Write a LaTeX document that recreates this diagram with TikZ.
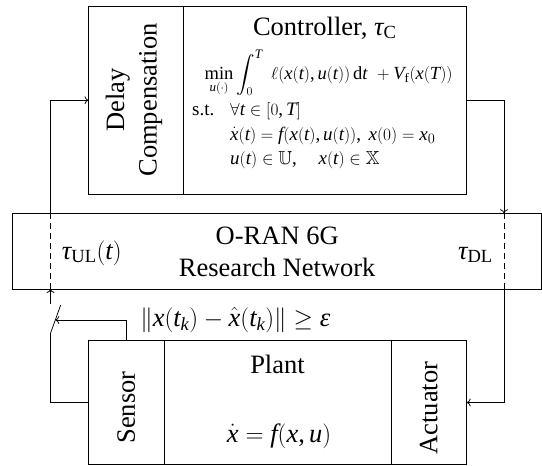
\documentclass[tikz,border=0pt]{standalone}
\usepackage{amssymb}
\usepackage{fontspec}
\setmainfont{Liberation Serif}[NFSSFamily=libserif]
\DeclareSymbolFont{lsletters}{TU}{libserif}{m}{it}
\DeclareSymbolFont{lsupright}{TU}{libserif}{m}{n}
\count255=`a
\loop \Umathcode\count255=7 \symlsletters\count255 \ifnum\count255<`z \advance\count255 by 1 \repeat
\count255=`A
\loop \Umathcode\count255=7 \symlsletters\count255 \ifnum\count255<`Z \advance\count255 by 1 \repeat
\count255=`0
\loop \Umathcode\count255=7 \symlsupright\count255 \ifnum\count255<`9 \advance\count255 by 1 \repeat
\Umathcode`(=4 \symlsupright`(
\Umathcode`)=5 \symlsupright`)
\Umathcode`[=4 \symlsupright`[
\Umathcode`]=5 \symlsupright`]
\Umathcode`,=6 \symlsupright`,
\Umathchardef\tau=7 \symlsletters "3C4
\Umathchardef\varepsilon=7 \symlsletters "3B5
\usetikzlibrary{arrows.meta}
\begin{document}
\begin{tikzpicture}[x=1pt,y=-1pt,
  box/.style={draw, line width=1pt, inner sep=0pt, outer sep=0pt},
  conn/.style={line width=0.75pt},
  dsh/.style={line width=0.75pt, dash pattern=on 6pt off 4pt},
  lbl/.style={font=\fontsize{26.5}{32.5}\selectfont, inner sep=0pt},
  mth/.style={font=\fontsize{19}{23}\selectfont, inner sep=0pt},
  >={To[length=4pt,width=8pt]}]
\useasboundingbox (0,0) rectangle (542,466);
% boxes
\node[box, minimum width=94.5pt, minimum height=188.5pt] (delay) at (135.75,100.25) {};
\node[box, minimum width=283.7pt, minimum height=188.5pt] (ctrl) at (324.85,100.25) {};
\node[box, minimum width=529pt, minimum height=75.7pt] (net) at (277.2,251.15) {};
\node[box, minimum width=75.7pt, minimum height=124pt] (sensor) at (126.15,402.5) {};
\node[box, minimum width=227pt, minimum height=124pt] (plant) at (277.5,402.5) {};
\node[box, minimum width=75.7pt, minimum height=124pt] (act) at (428.85,402.5) {};
% controller texts
\node[lbl, rotate=90, align=center] (delaytxt) at (134,100) {Delay\\Compensation};
\node[lbl, anchor=base] (ctitle) at (324.8,35) {Controller, $\tau_{\mathrm{C}}$};
\node[mth, font=\fontsize{18.5}{22}\selectfont, anchor=base west] (m1) at (204.5,79) {$\displaystyle\min_{u(\cdot)}\int_0^T\mkern6mu \ell(x(t),u(t))\,\mathrm{d}t\mkern6mu + V_{\mathrm{f}}(x(T))$};
\node[mth, anchor=base west] (m2a) at (192,115) {s.t.};
\node[mth, anchor=base west] (m2b) at (230,115) {$\forall t\in[0,T]$};
\node[mth, anchor=base west] (m3) at (230,140) {$\dot x(t)=f(x(t),u(t)),\ x(0)=x_0$};
\node[mth, anchor=base west] (m4) at (230,164) {$u(t)\in\mathbb{U},\quad x(t)\in\mathbb{X}$};
% network texts
\node[lbl, anchor=base] (n1) at (277.2,244.3) {O-RAN 6G};
\node[lbl, anchor=base] (n2) at (277.2,276.7) {Research Network};
\node[lbl, anchor=base west] (tul) at (61.7,259) {$\tau_{\mathrm{UL}}(t)$};
\node[lbl, anchor=base east] (tdl) at (493,259) {$\tau_{\mathrm{DL}}$};
% plant texts
\node[lbl, anchor=base] (ptitle) at (277.5,373.3) {Plant};
\node[lbl, anchor=base] (pdyn) at (279,442) {$\dot x = f(x,u)$};
\node[lbl, rotate=90] (stxt) at (126.15,407.5) {Sensor};
\node[lbl, rotate=90] (atxt) at (428.85,408) {Actuator};
\node[lbl, anchor=base] (trig) at (235.3,326) {$\|x(t_k)-\hat x(t_k)\|\geq\varepsilon$};
% connector points
\coordinate (ulx) at (50.5,0);
\coordinate (dlx) at (504,0);
\coordinate (swp) at (50.5,333.3);
\coordinate (swe) at (60.7,305);
\coordinate (swt) at (50.5,304);
\coordinate (tg) at (55.3,320);
% connectors
\draw[conn] (sensor.west) -| (swp) -- (swe);
\draw[conn,->] (swt) -- (swt |- net.south);
\draw[dsh] (ulx |- net.south) -- (ulx |- net.north);
\draw[conn,->] (ulx |- net.north) |- (delay.west);
\draw[conn,->] (ctrl.east) -| (dlx |- net.north);
\draw[dsh] (dlx |- net.north) -- (dlx |- net.south);
\draw[conn,->] (dlx |- net.south) |- (act.east);
\draw[conn,->] (sensor.north) |- (tg);
\end{tikzpicture}
\end{document}
